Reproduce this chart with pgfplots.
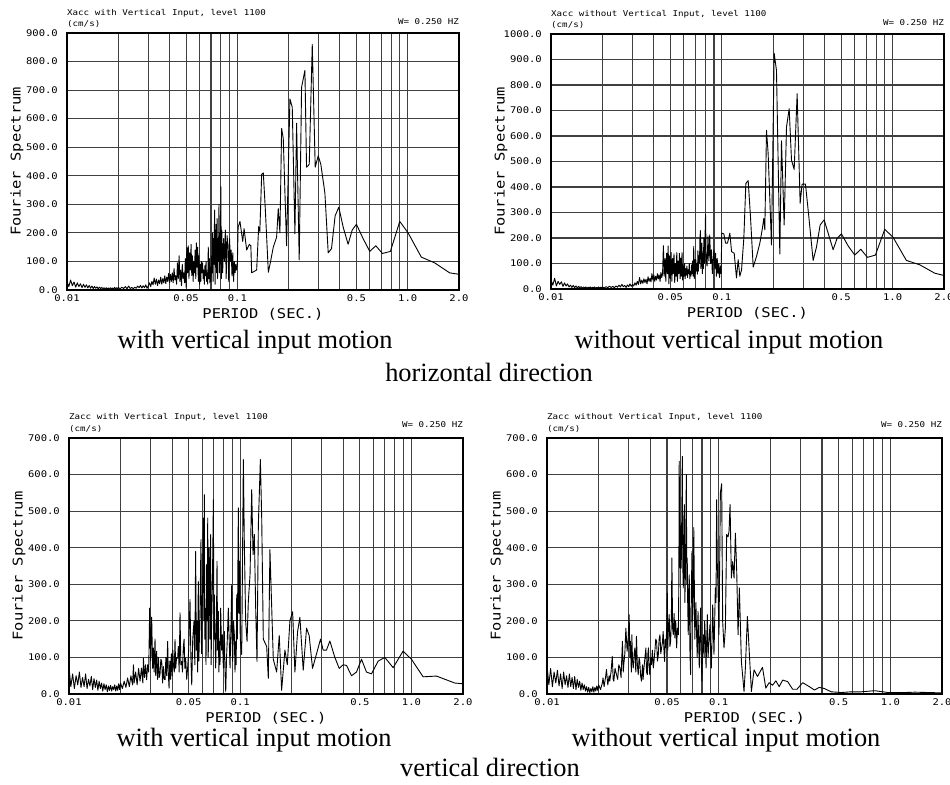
\documentclass[border=0pt]{standalone}
\usepackage{fontspec}
\setmainfont{Liberation Serif}
\newfontfamily\plotfont{DejaVu Sans Mono}[FakeStretch=1.15]
\usepackage{pgfplots}
\pgfplotsset{compat=1.18}
\newcommand\tickfont{\plotfont\fontsize{9.2}{10}\selectfont}
\newcommand\hdrfont{\plotfont\fontsize{8}{9}\selectfont}
\newcommand\labfont{\plotfont\fontsize{13.5}{15}\selectfont}
\newcommand\capfont{\fontsize{26.5}{28}\selectfont}
\pgfplotsset{
  panelstyle/.style={
    scale only axis, xmin=0.01, xmax=2, ymin=0,
    xtick={0.01,0.05,0.1,0.5,1,2}, xticklabels={0.01,0.05,0.1,0.5,1.0,2.0},
    minor xtick={0.02,0.03,0.04,0.06,0.07,0.08,0.09,0.2,0.3,0.4,0.6,0.7,0.8,0.9},
    xmajorgrids, xminorgrids, ymajorgrids,
    major tick length=0pt, minor tick length=0pt,
    minor grid style={black!75, line width=1.1bp},
    major grid style={black!75, line width=1.1bp},
    axis line style={line width=1.4bp},
    ticklabel style={font=\tickfont},
    xticklabel style={inner sep=0pt, anchor=north, yshift=-5bp},
    yticklabel style={inner sep=0pt, anchor=east, xshift=-9bp},
    xlabel={PERIOD (SEC.)}, ylabel={Fourier Spectrum},
    label style={font=\labfont},
    xlabel style={at={(axis description cs:0.5,0)}, anchor=center, yshift=-24bp},
    ylabel style={at={(axis description cs:0,0.5)}, anchor=center, yshift=50bp},
    clip mode=individual,
  },
}
\tikzset{hdr/.style={font=\hdrfont, inner sep=0pt},
  trace/.style={black, line width=0.9bp, mark=none, line join=round}}
\begin{document}
\begin{tikzpicture}[x=1bp,y=1bp]
\useasboundingbox (0,0) rectangle (950,785);
% ---------------- Panel A ----------------
\begin{semilogxaxis}[panelstyle, at={(67bp,495bp)}, anchor=south west, width=392bp, height=257bp,
  ymax=900, ytick={0,100,...,900},
  yticklabels={0.0,100.0,200.0,300.0,400.0,500.0,600.0,700.0,800.0,900.0}]
\addplot[trace] coordinates {
(0.01,30)(0.01025,12)(0.0105,35)(0.01075,15)(0.011,28)(0.01125,10)(0.0115,25)(0.01175,12)(0.012,22)(0.01225,8)
(0.0125,20)(0.01275,9)(0.013,18)(0.01325,7)(0.0135,16)(0.01375,6)(0.014,14)(0.01425,5)(0.0145,12)(0.01475,6)
(0.015,11)(0.01525,4)(0.0155,10)(0.01575,5)(0.016,9)(0.01625,4)(0.0165,8)(0.01675,3)(0.017,8)(0.01725,4)
(0.0175,7)(0.01775,3)(0.018,8)(0.01825,4)(0.0185,7)(0.01875,3)(0.019,9)(0.01925,4)(0.0195,8)(0.01975,3)(0.02,9)
(0.0205,4)(0.021,10)(0.0215,5)(0.022,12)(0.0225,4)(0.023,14)(0.0235,5)(0.024,9)(0.0245,4)(0.025,10)
(0.0255,6)(0.026,14)(0.0265,8)(0.027,16)(0.0275,7)(0.028,15)(0.0285,8)(0.029,18)(0.0295,6)(0.03,14)
(0.0305,25)(0.031,12)(0.0315,30)(0.032,18)(0.0325,42)(0.033,20)(0.0335,38)(0.034,15)(0.0345,35)(0.035,22)
(0.0355,45)(0.036,20)(0.0365,40)(0.037,25)(0.0375,50)(0.038,22)(0.0385,45)(0.039,30)(0.0395,58)(0.04,25)
(0.0405,55)(0.041,30)(0.0415,60)(0.042,25)(0.0425,75)(0.043,35)(0.0435,50)(0.044,20)(0.0445,95)(0.045,40)
(0.0455,120)(0.046,30)(0.0465,70)(0.047,15)(0.0475,90)(0.048,40)(0.0485,60)(0.049,25)(0.0495,110)(0.05,10)
(0.0505,150)(0.051,60)(0.0515,155)(0.052,40)(0.0525,130)(0.053,70)(0.0535,160)(0.054,50)(0.0545,120)(0.055,30)
(0.0555,100)(0.056,60)(0.0565,140)(0.057,40)(0.0575,165)(0.058,80)(0.0585,150)(0.059,30)(0.0595,120)(0.06,20)
(0.0605,90)(0.061,30)(0.0615,100)(0.062,60)(0.0625,95)(0.063,40)(0.0635,70)(0.064,20)(0.0645,85)(0.065,50)
(0.0655,100)(0.066,30)(0.0665,60)(0.067,20)(0.0675,150)(0.068,40)(0.0685,110)(0.069,25)(0.0695,80)(0.07,30)
(0.0705,120)(0.071,60)(0.0715,200)(0.072,30)(0.0725,180)(0.073,90)(0.0735,280)(0.074,20)(0.0745,150)(0.075,230)
(0.0755,60)(0.076,250)(0.0765,40)(0.077,180)(0.0775,100)(0.078,300)(0.0785,60)(0.079,200)(0.0795,90)(0.080,362)
(0.0805,40)(0.081,210)(0.082,60)(0.083,180)(0.084,100)(0.085,210)(0.086,40)(0.087,190)(0.088,160)(0.089,30)
(0.090,180)(0.091,100)(0.092,140)(0.093,50)(0.094,130)(0.095,30)(0.096,100)(0.097,60)(0.098,90)(0.099,70)
(0.1,90)(0.101,220)(0.1036,240)(0.1075,170)(0.1095,215)(0.1134,140)(0.1176,160)(0.1200,155)(0.1213,60)(0.1298,70)
(0.1334,222)(0.1355,205)(0.1389,405)(0.142,410)(0.146,280)(0.152,62)(0.1567,100)(0.1625,150)(0.170,185)(0.1738,285)
(0.1778,200)(0.1819,566)(0.186,530)(0.1945,155)(0.2035,669)(0.210,640)(0.2177,197)(0.2227,584)(0.2307,105)(0.2382,710)
(0.2492,769)(0.2547,430)(0.2642,440)(0.2752,860)(0.2864,430)(0.2983,470)(0.309,440)(0.3264,340)(0.3414,130)(0.357,145)
(0.375,260)(0.394,290)(0.418,220)(0.4467,160)(0.472,210)(0.500,230)(0.547,180)(0.599,135)(0.649,155)(0.7105,128)
(0.791,135)(0.898,240)(1.005,200)(1.202,115)(1.439,95)(1.762,60)(2.0,55)
};
\node[hdr, anchor=west, yshift=19.5bp] at (axis description cs:0,1) {Xacc with Vertical Input, level 1100};
\node[hdr, anchor=west, yshift=9bp] at (axis description cs:0,1) {(cm/s)};
\node[hdr, anchor=east, yshift=11bp] at (axis description cs:1,1) {W= 0.250 HZ};
\end{semilogxaxis}
% ---------------- Panel B ----------------
\begin{semilogxaxis}[panelstyle, at={(551bp,496bp)}, anchor=south west, width=393bp, height=255bp,
  ymax=1000, ytick={0,100,...,1000},
  yticklabels={0.0,100.0,200.0,300.0,400.0,500.0,600.0,700.0,800.0,900.0,1000.0}]
\addplot[trace] coordinates {
(0.01,35)(0.01025,15)(0.0105,42)(0.01075,12)(0.011,30)(0.01125,18)(0.0115,28)(0.01175,10)(0.012,24)(0.01225,12)
(0.0125,20)(0.01275,8)(0.013,15)(0.01325,6)(0.0135,14)(0.01375,5)(0.014,12)(0.01425,4)(0.0145,10)(0.01475,5)
(0.015,9)(0.01525,3)(0.0155,8)(0.01575,4)(0.016,8)(0.01625,3)(0.0165,7)(0.01675,4)(0.017,8)(0.01725,3)
(0.0175,7)(0.01775,4)(0.018,8)(0.01825,3)(0.0185,6)(0.01875,4)(0.019,8)(0.01925,3)(0.0195,7)(0.01975,4)(0.02,8)
(0.0205,4)(0.021,9)(0.0215,5)(0.022,11)(0.0225,6)(0.023,10)(0.0235,5)(0.024,12)(0.0245,7)(0.025,15)
(0.0255,8)(0.026,18)(0.0265,9)(0.027,14)(0.0275,6)(0.028,16)(0.0285,9)(0.029,20)(0.0295,10)(0.03,18)
(0.0305,12)(0.031,24)(0.0315,15)(0.032,30)(0.0325,18)(0.033,45)(0.0335,20)(0.034,35)(0.0345,22)(0.035,40)
(0.0355,25)(0.036,38)(0.0365,20)(0.037,48)(0.0375,30)(0.038,42)(0.0385,28)(0.039,60)(0.0395,35)(0.04,55)
(0.0405,30)(0.041,50)(0.0415,35)(0.042,60)(0.0425,40)(0.043,55)(0.0435,30)(0.044,65)(0.0445,45)(0.045,60)
(0.0455,170)(0.046,50)(0.0465,120)(0.047,30)(0.0475,140)(0.048,60)(0.0485,169)(0.049,20)(0.0495,130)(0.05,40)
(0.0505,143)(0.051,30)(0.0515,120)(0.052,60)(0.0525,138)(0.053,25)(0.0535,100)(0.054,50)(0.0545,143)(0.055,30)
(0.0555,110)(0.056,60)(0.0565,140)(0.057,40)(0.0575,120)(0.058,50)(0.0585,143)(0.059,35)(0.0595,90)(0.06,50)
(0.0605,100)(0.061,40)(0.0615,80)(0.062,55)(0.0625,90)(0.063,45)(0.0635,75)(0.064,60)(0.0645,100)(0.065,40)
(0.0655,70)(0.066,50)(0.0665,95)(0.067,60)(0.0675,110)(0.068,50)(0.0685,167)(0.069,40)(0.0695,115)(0.07,60)
(0.0705,115)(0.071,70)(0.0715,100)(0.072,58)(0.0725,150)(0.073,70)(0.0735,130)(0.074,100)(0.0745,200)(0.075,229)
(0.0755,80)(0.076,120)(0.0765,180)(0.077,60)(0.0775,140)(0.078,80)(0.0785,200)(0.079,100)(0.0795,150)(0.0803,293)
(0.081,110)(0.082,90)(0.083,208)(0.084,110)(0.085,212)(0.086,100)(0.087,154)(0.088,60)(0.089,115)(0.090,154)
(0.091,80)(0.092,140)(0.093,50)(0.094,120)(0.095,60)(0.096,100)(0.097,45)(0.098,90)(0.099,60)
(0.1,219)(0.1028,216)(0.1052,180)(0.108,180)(0.1115,219)(0.114,147)(0.1182,140)(0.1219,43)(0.1247,115)(0.1275,50)
(0.1305,75)(0.1346,200)(0.1383,414)(0.1427,425)(0.1472,284)(0.1527,86)(0.1597,128)(0.167,180)(0.1723,232)(0.1762,277)
(0.1786,232)(0.1827,622)(0.1868,531)(0.1954,173)(0.2026,924)(0.209,857)(0.2186,137)(0.2236,581)(0.2318,251)(0.2392,635)
(0.248,707)(0.2559,505)(0.2653,469)(0.2761,766)(0.2875,336)(0.2953,411)(0.309,411)(0.3232,284)(0.3425,112)(0.3583,164)
(0.3765,251)(0.3973,271)(0.4194,219)(0.4486,154)(0.4735,199)(0.5019,216)(0.549,169)(0.6004,133)(0.651,156)(0.7124,124)
(0.7934,133)(0.8995,234)(1.006,203)(1.204,112)(1.441,95)(1.764,62)(2.0,53)
};
\node[hdr, anchor=west, yshift=19.5bp] at (axis description cs:0,1) {Xacc without Vertical Input, level 1100};
\node[hdr, anchor=west, yshift=9bp] at (axis description cs:0,1) {(cm/s)};
\node[hdr, anchor=east, yshift=11bp] at (axis description cs:1,1) {W= 0.250 HZ};
\end{semilogxaxis}
% ---------------- Panel C ----------------
\begin{semilogxaxis}[panelstyle, at={(69bp,91bp)}, anchor=south west, width=394bp, height=256bp,
  ymax=700, ytick={0,100,...,700},
  yticklabels={0.0,100.0,200.0,300.0,400.0,500.0,600.0,700.0}]
\addplot[trace] coordinates {
(0.01,75)(0.01025,20)(0.0105,55)(0.01075,15)(0.011,50)(0.01125,25)(0.0115,60)(0.01175,18)(0.012,45)(0.01225,20)
(0.0125,55)(0.01275,15)(0.013,40)(0.01325,22)(0.0135,48)(0.01375,12)(0.014,42)(0.01425,18)(0.0145,38)(0.01475,10)
(0.015,35)(0.01525,15)(0.0155,30)(0.01575,8)(0.016,28)(0.01625,12)(0.0165,25)(0.01675,6)(0.017,22)(0.01725,10)
(0.0175,24)(0.01775,8)(0.018,20)(0.01825,12)(0.0185,25)(0.01875,8)(0.019,22)(0.01925,10)(0.0195,28)(0.01975,12)(0.02,30)
(0.0205,15)(0.021,35)(0.0215,18)(0.022,44)(0.0225,20)(0.023,50)(0.0235,25)(0.0238,80)(0.024,30)(0.0245,60)
(0.025,25)(0.0255,70)(0.026,35)(0.0265,71)(0.027,30)(0.0272,98)(0.0276,45)(0.028,80)(0.0284,39)(0.0288,80)
(0.0292,60)(0.0296,235)(0.030,90)(0.0304,210)(0.0308,70)(0.0311,126)(0.0314,60)(0.0318,150)(0.0321,50)(0.0325,117)
(0.0329,40)(0.0333,100)(0.0336,45)(0.034,53)(0.0344,95)(0.0348,89)(0.0352,30)(0.0356,75)(0.036,40)(0.0364,39)
(0.0368,100)(0.0372,50)(0.0377,144)(0.038,60)(0.0384,16)(0.0388,90)(0.0392,40)(0.0396,110)(0.040,50)(0.0404,120)
(0.0407,80)(0.0412,60)(0.0416,149)(0.042,70)(0.0425,100)(0.0431,98)(0.0435,130)(0.044,60)(0.0445,222)(0.045,80)
(0.0455,89)(0.046,60)(0.0465,126)(0.047,150)(0.0475,70)(0.048,98)(0.0487,40)(0.0493,71)(0.050,120)(0.0509,258)
(0.0515,100)(0.0521,25)(0.0528,150)(0.0537,199)(0.0543,80)(0.0549,390)(0.0554,120)(0.0559,199)(0.0564,60)(0.0569,308)
(0.0573,90)(0.0577,144)(0.0583,250)(0.059,422)(0.0594,110)(0.0598,180)(0.0603,300)(0.0609,481)(0.0613,200)(0.0617,545)
(0.0621,150)(0.0626,234)(0.0631,80)(0.0637,354)(0.0641,200)(0.0646,481)(0.065,100)(0.0654,162)(0.0658,400)(0.0663,326)
(0.0667,150)(0.0672,436)(0.0676,80)(0.0681,199)(0.0688,300)(0.0697,531)(0.0702,150)(0.0706,271)(0.0712,180)(0.0719,71)
(0.0725,150)(0.0732,363)(0.0738,120)(0.0745,226)(0.075,60)(0.0755,144)(0.0762,80)(0.0769,235)(0.0778,120)(0.0787,162)
(0.0797,71)(0.0803,130)(0.0808,171)(0.0815,60)(0.0823,7)(0.0832,100)(0.0841,153)(0.0852,235)(0.0862,150)(0.0872,71)
(0.0882,180)(0.0892,299)(0.0898,140)(0.0904,89)(0.0914,200)(0.0924,162)(0.0932,60)(0.0941,144)(0.0947,80)(0.0954,271)
(0.0962,150)(0.0975,509)(0.0983,220)(0.0993,363)(0.1,153)
(0.102,108)(0.1043,641)(0.1057,408)(0.1076,198)(0.1096,144)(0.1115,253)(0.1141,326)(0.1167,559)(0.1188,381)(0.1209,436)
(0.1231,235)(0.1253,89)(0.1276,463)(0.1311,641)(0.1335,480)(0.1364,150)(0.1427,130)(0.1459,43)(0.1491,395)(0.156,95)
(0.1632,60)(0.169,160)(0.1745,10)(0.1824,120)(0.1883,80)(0.1951,200)(0.2023,225)(0.2086,60)(0.2162,170)(0.2231,210)
(0.2333,65)(0.244,180)(0.2527,160)(0.2644,70)(0.279,110)(0.2944,150)(0.305,120)(0.319,120)(0.3338,145)(0.357,100)
(0.3785,70)(0.3993,80)(0.4176,78)(0.4467,50)(0.4775,60)(0.5108,95)(0.5463,60)(0.5842,55)(0.6392,90)(0.699,100)
(0.7816,72)(0.893,117)(1.0,95)(1.17,47)(1.4,49)(1.79,30)(2.0,28)
};
\node[hdr, anchor=west, yshift=21bp] at (axis description cs:0,1) {Zacc with Vertical Input, level 1100};
\node[hdr, anchor=west, yshift=9bp] at (axis description cs:0,1) {(cm/s)};
\node[hdr, anchor=east, yshift=13bp] at (axis description cs:1,1) {W= 0.250 HZ};
\end{semilogxaxis}
% ---------------- Panel D ----------------
\begin{semilogxaxis}[panelstyle, at={(547bp,91bp)}, anchor=south west, width=395bp, height=256bp,
  ymax=700, ytick={0,100,...,700},
  yticklabels={0.0,100.0,200.0,300.0,400.0,500.0,600.0,700.0}]
\addplot[trace] coordinates {
(0.01,80)(0.01025,25)(0.0105,70)(0.01075,20)(0.011,60)(0.01125,30)(0.0115,65)(0.01175,22)(0.012,55)(0.01225,15)
(0.0125,60)(0.01275,25)(0.013,50)(0.01325,18)(0.0135,55)(0.01375,20)(0.014,45)(0.01425,15)(0.0145,48)(0.01475,12)
(0.015,40)(0.01525,18)(0.0155,35)(0.01575,10)(0.016,30)(0.01625,12)(0.0165,25)(0.01675,8)(0.017,20)(0.01725,5)
(0.0175,18)(0.01775,4)(0.018,15)(0.01825,6)(0.0185,20)(0.01875,5)(0.019,18)(0.01925,8)(0.0195,22)(0.01975,10)(0.02,25)
(0.0205,12)(0.021,30)(0.0212,44)(0.0215,20)(0.022,50)(0.0222,67)(0.0226,25)(0.023,50)(0.0232,35)(0.0236,60)
(0.024,103)(0.0243,40)(0.0245,35)(0.0249,70)(0.0254,53)(0.0258,40)(0.0262,80)(0.0266,71)(0.027,45)(0.0275,144)
(0.0278,60)(0.028,80)(0.0284,110)(0.0288,180)(0.0293,117)(0.0297,150)(0.0301,217)(0.0304,100)(0.0306,144)(0.031,60)
(0.0312,162)(0.0315,90)(0.0318,71)(0.0322,110)(0.0325,126)(0.0329,60)(0.0332,158)(0.0336,80)(0.034,53)(0.0344,100)
(0.0347,89)(0.0351,50)(0.0355,35)(0.036,80)(0.0363,40)(0.0367,71)(0.0372,100)(0.0377,126)(0.038,60)(0.0384,53)
(0.0387,110)(0.039,126)(0.0394,70)(0.0397,53)(0.0402,100)(0.0406,80)(0.0411,120)(0.0416,71)(0.042,90)(0.0425,117)
(0.043,150)(0.0435,144)(0.044,90)(0.0445,108)(0.045,150)(0.0455,162)(0.046,110)(0.0465,126)(0.047,140)(0.0475,171)
(0.048,120)(0.0484,89)(0.0488,150)(0.0493,126)(0.0498,180)(0.0502,276)(0.0505,120)(0.0508,162)(0.0512,200)(0.0515,217)
(0.052,130)(0.0525,144)(0.053,200)(0.0534,372)(0.0539,180)(0.0544,162)(0.055,220)(0.0556,153)(0.0562,200)(0.0569,126)
(0.0575,180)(0.0582,162)(0.0586,300)(0.0589,636)(0.0593,400)(0.0597,344)(0.0601,460)(0.0605,344)(0.061,500)(0.0614,650)
(0.0618,350)(0.0622,290)(0.0627,420)(0.0631,518)(0.0635,250)(0.0639,308)(0.0644,450)(0.0648,600)(0.0652,300)(0.0656,372)
(0.066,250)(0.0665,162)(0.0669,280)(0.0674,326)(0.068,120)(0.0686,53)(0.0692,250)(0.0699,390)(0.0705,200)(0.0711,253)
(0.0716,455)(0.0721,317)(0.0726,150)(0.0731,199)(0.0737,250)(0.0744,162)(0.075,100)(0.0758,226)(0.0764,150)(0.0771,71)
(0.0778,160)(0.0785,235)(0.0792,100)(0.0799,35)(0.0806,120)(0.0814,162)(0.0822,100)(0.0829,199)(0.0837,150)(0.0844,71)
(0.0852,150)(0.0859,217)(0.0867,100)(0.0874,126)(0.0882,160)(0.089,190)(0.0898,120)(0.0906,71)(0.0915,150)(0.0923,244)
(0.0931,180)(0.0939,108)(0.0948,200)(0.0956,290)(0.0965,250)(0.0973,531)(0.0982,350)(0.0991,290)(0.1004,162)
(0.1023,550)(0.1041,575)(0.1055,199)(0.1074,126)(0.1094,180)(0.1113,436)(0.1134,430)(0.1149,445)(0.1165,518)(0.1186,317)
(0.1207,362)(0.1229,317)(0.1251,440)(0.1274,335)(0.1297,162)(0.1320,290)(0.1356,89)(0.1405,7)(0.1431,71)(0.1470,212)
(0.1510,108)(0.1551,7)(0.1607,66)(0.1683,48)(0.180,73)(0.1882,16)(0.1968,31)(0.2060,24)(0.2153,36)(0.2252,20)
(0.2358,38)(0.2521,34)(0.2697,13)(0.2858,13)(0.3087,31)(0.3375,20)(0.3609,11)(0.386,18)(0.413,15)(0.452,6)
(0.517,4)(0.592,6)(0.677,6)(0.8105,9)(0.97,4)(1.214,4)(1.39,5)(2.0,3)
};
\node[hdr, anchor=west, yshift=21bp] at (axis description cs:0,1) {Zacc without Vertical Input, level 1100};
\node[hdr, anchor=west, yshift=9bp] at (axis description cs:0,1) {(cm/s)};
\node[hdr, anchor=east, yshift=13bp] at (axis description cs:1,1) {W= 0.250 HZ};
\end{semilogxaxis}
% ---------------- captions ----------------
\node[font=\capfont, inner sep=0pt] at (255,443) {with vertical input motion};
\node[font=\capfont, inner sep=0pt] at (729,443) {without vertical input motion};
\node[font=\capfont, inner sep=0pt] at (489,413) {horizontal direction};
\node[font=\capfont, inner sep=0pt] at (254,45) {with vertical input motion};
\node[font=\capfont, inner sep=0pt] at (726,45) {without vertical input motion};
\node[font=\capfont, inner sep=0pt] at (490,18) {vertical direction};
\end{tikzpicture}
\end{document}
